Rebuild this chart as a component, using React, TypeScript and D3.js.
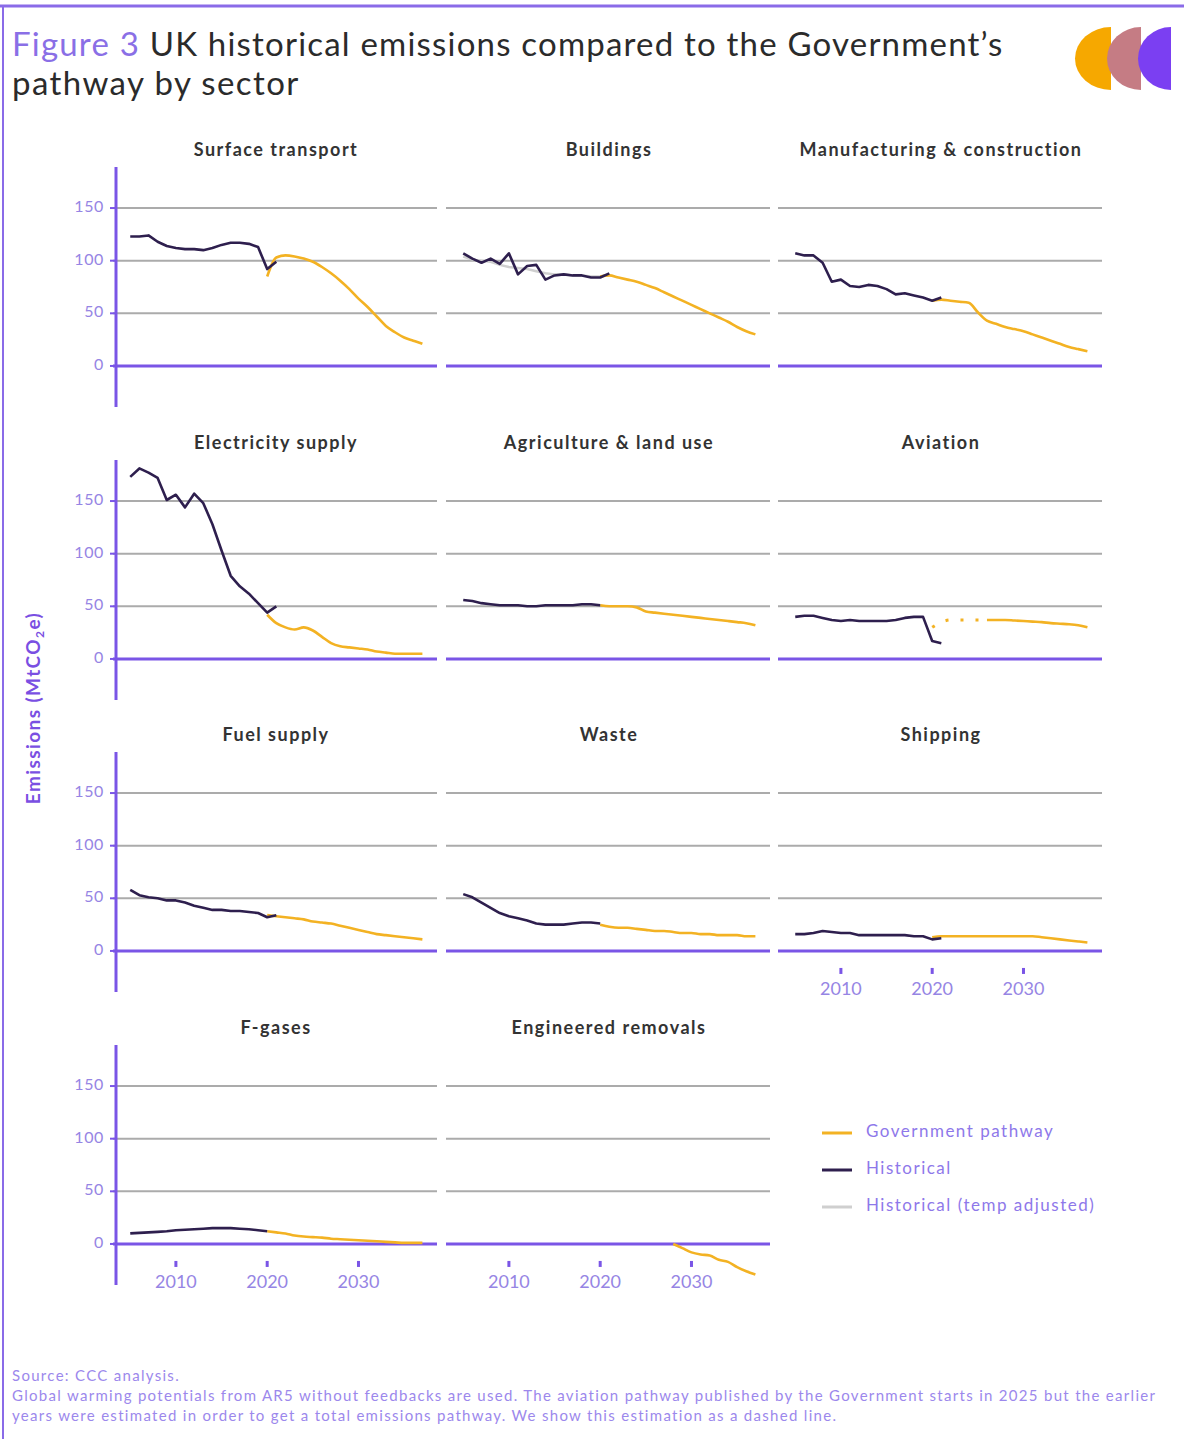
import React from 'react';
import * as d3 from 'd3';

// ---- Data (MtCO2e) ----
const HIST_YEARS = [2005, 2006, 2007, 2008, 2009, 2010, 2011, 2012, 2013, 2014, 2015, 2016, 2017, 2018, 2019, 2020, 2021];
const PATH_YEARS = [2020, 2021, 2022, 2023, 2024, 2025, 2026, 2027, 2028, 2029, 2030, 2031, 2032, 2033, 2034, 2035, 2036, 2037];

const surfaceHist = [123, 123, 124, 118, 114, 112, 111, 111, 110, 112, 115, 117, 117, 116, 113, 92, 99];
const surfacePath = [85, 103, 105, 104, 102, 99, 94, 88, 81, 73, 64, 56, 47, 38, 32, 27, 24, 21];

const buildingsHist = [107, 102, 98, 102, 97, 107, 87, 95, 96, 82, 86, 87, 86, 86, 84, 84, 88];
const buildingsAdj = [104, 101, 100, 99, 96, 94, 93, 92, 90, 88, 87, 87, 86, 86, 85, 85, 87];
const buildingsPath = [85, 86, 84, 82, 80, 77, 74, 70, 66, 62, 58, 54, 50, 46, 42, 37, 33, 30];

const manufacturingHist = [107, 105, 105, 98, 80, 82, 76, 75, 77, 76, 73, 68, 69, 67, 65, 62, 65];
const manufacturingPath = [62, 63, 62, 61, 60, 51, 43, 40, 37, 35, 33, 30, 27, 24, 21, 18, 16, 14];

const electricityHist = [173, 181, 177, 172, 151, 156, 144, 157, 148, 128, 103, 79, 69, 62, 53, 44, 50];
const electricityPath = [42, 34, 30, 28, 30, 27, 21, 15, 12, 11, 10, 9, 7, 6, 5, 5, 5, 5];

const agricultureHist = [56, 55, 53, 52, 51, 51, 51, 50, 50, 51, 51, 51, 51, 52, 52, 51];
const agriculturePath = [51, 50, 50, 50, 49, 45, 44, 43, 42, 41, 40, 39, 38, 37, 36, 35, 34, 32];

const aviationHist = [40, 41, 41, 39, 37, 36, 37, 36, 36, 36, 36, 37, 39, 40, 40, 17, 15];
const AVIATION_EST_YEARS = [2020, 2021, 2022, 2023, 2024, 2025, 2026];
const aviationEst = [30, 35, 37, 37, 37, 37, 37];
const AVIATION_PATH_YEARS = [2026, 2027, 2028, 2029, 2030, 2031, 2032, 2033, 2034, 2035, 2036, 2037];
const aviationPath = [37, 37, 37, 36.5, 36, 35.5, 35, 34, 33.5, 33, 32, 30];

const fuelHist = [58, 53, 51, 50, 48, 48, 46, 43, 41, 39, 39, 38, 38, 37, 36, 32, 34];
const fuelPath = [34, 33, 32, 31, 30, 28, 27, 26, 24, 22, 20, 18, 16, 15, 14, 13, 12, 11];

const wasteHist = [54, 51, 46, 41, 36, 33, 31, 29, 26, 25, 25, 25, 26, 27, 27, 26];
const wastePath = [25, 23, 22, 22, 21, 20, 19, 19, 18, 17, 17, 16, 16, 15, 15, 15, 14, 14];

const shippingHist = [16, 16, 17, 19, 18, 17, 17, 15, 15, 15, 15, 15, 15, 14, 14, 11, 12];
const shippingPath = [13, 14, 14, 14, 14, 14, 14, 14, 14, 14, 14, 14, 13, 12, 11, 10, 9, 8];

const fgasHist = [10, 10.5, 11, 11.5, 12, 13, 13.5, 14, 14.5, 15, 15, 15, 14.5, 14, 13, 12];
const fgasPath = [12, 11, 10, 8, 7, 6.5, 6, 5, 4.5, 4, 3.5, 3, 2.5, 2, 1.5, 1, 1, 1];

const REMOVALS_YEARS = [2028, 2029, 2030, 2031, 2032, 2033, 2034, 2035, 2036, 2037];
const removalsPath = [0, -4, -8, -10, -11, -15, -17, -22, -26, -29];

const Y_TICKS = [0, 50, 100, 150];
const X_TICKS = [2010, 2020, 2030];

type Series = { years: number[]; values: number[] };
type Panel = {
  title: string;
  hist?: Series;
  adj?: Series;
  path?: Series;
  est?: Series;
  xAxis?: boolean;
};

const zipS = (years: number[], values: number[]): Series => ({ years: years.slice(0, values.length), values });

const PANELS: Panel[] = [
  { title: 'Surface transport', hist: zipS(HIST_YEARS, surfaceHist), path: zipS(PATH_YEARS, surfacePath) },
  { title: 'Buildings', hist: zipS(HIST_YEARS, buildingsHist), adj: zipS(HIST_YEARS, buildingsAdj), path: zipS(PATH_YEARS, buildingsPath) },
  { title: 'Manufacturing & construction', hist: zipS(HIST_YEARS, manufacturingHist), path: zipS(PATH_YEARS, manufacturingPath) },
  { title: 'Electricity supply', hist: zipS(HIST_YEARS, electricityHist), path: zipS(PATH_YEARS, electricityPath) },
  { title: 'Agriculture & land use', hist: zipS(HIST_YEARS, agricultureHist), path: zipS(PATH_YEARS, agriculturePath) },
  { title: 'Aviation', hist: zipS(HIST_YEARS, aviationHist), est: zipS(AVIATION_EST_YEARS, aviationEst), path: zipS(AVIATION_PATH_YEARS, aviationPath) },
  { title: 'Fuel supply', hist: zipS(HIST_YEARS, fuelHist), path: zipS(PATH_YEARS, fuelPath) },
  { title: 'Waste', hist: zipS(HIST_YEARS, wasteHist), path: zipS(PATH_YEARS, wastePath) },
  { title: 'Shipping', hist: zipS(HIST_YEARS, shippingHist), path: zipS(PATH_YEARS, shippingPath), xAxis: true },
  { title: 'F-gases', hist: zipS(HIST_YEARS, fgasHist), path: zipS(PATH_YEARS, fgasPath), xAxis: true },
  { title: 'Engineered removals', path: zipS(REMOVALS_YEARS, removalsPath), xAxis: true },
];

// ---- Styling ----
const W = 1184;
const H = 1439;
const COL_X = [115, 448, 780];
const ROW_Y = [167, 460, 752, 1045];
const PW = 322;
const PH = 240;

const PURPLE = '#7a55e6';
const LIGHT_PURPLE = '#9685e4';
const GRID = '#ababab';
const HIST_C = '#2e1f4e';
const PATH_C = '#f3b223';
const ADJ_C = '#cfcfcf';
const FONT = 'Lato, "Noto Sans", sans-serif';

const x = d3.scaleLinear().domain([2003.33, 2038.6]).range([0, PW]);
const y = d3.scaleLinear().domain([-39, 189]).range([PH, 0]);

const lineLinear = d3
  .line<[number, number]>()
  .x((d) => x(d[0]))
  .y((d) => y(d[1]));
const lineSmooth = d3
  .line<[number, number]>()
  .x((d) => x(d[0]))
  .y((d) => y(d[1]))
  .curve(d3.curveMonotoneX);

const pts = (s: Series) => s.years.map((yr, i) => [yr, s.values[i]] as [number, number]);

function PanelView({ p, idx }: { p: Panel; idx: number }) {
  const col = idx % 3;
  const row = Math.floor(idx / 3);
  const x0 = COL_X[col];
  const y0 = ROW_Y[row];
  const zeroY = y(0);
  return (
    <g transform={`translate(${x0},${y0})`}>
      <text
        x={PW / 2}
        y={-16}
        textAnchor="middle"
        dominantBaseline="middle"
        fontFamily={FONT}
        fontWeight={700}
        fontSize={18}
        fill="#333"
        letterSpacing={1.5}
      >
        {p.title}
      </text>
      {Y_TICKS.filter((t) => t !== 0).map((t) => (
        <line key={t} x1={-2} x2={PW} y1={y(t)} y2={y(t)} stroke={GRID} strokeWidth={2} />
      ))}
      <line x1={-2} x2={PW} y1={zeroY} y2={zeroY} stroke={PURPLE} strokeWidth={3} />
      {col === 0 && (
        <g>
          <line x1={1} x2={1} y1={0} y2={PH} stroke={PURPLE} strokeWidth={3} />
          {Y_TICKS.map((t) => (
            <g key={t}>
              <line x1={-5} x2={1} y1={y(t)} y2={y(t)} stroke={PURPLE} strokeWidth={2} />
              <text
                x={-11}
                y={y(t)}
                textAnchor="end"
                dominantBaseline="middle"
                fontFamily={FONT}
                fontSize={16}
                letterSpacing={0.6}
                fill={LIGHT_PURPLE}
              >
                {t}
              </text>
            </g>
          ))}
        </g>
      )}
      {p.xAxis &&
        X_TICKS.map((t) => (
          <g key={t}>
            <rect x={x(t) - 1.5} y={zeroY + 17} width={3} height={6} fill={PURPLE} />
            <text
              x={x(t)}
              y={zeroY + 39}
              textAnchor="middle"
              dominantBaseline="middle"
              fontFamily={FONT}
              fontSize={18}
              fill={LIGHT_PURPLE}
            >
              {t}
            </text>
          </g>
        ))}
      {p.adj && <path d={lineLinear(pts(p.adj)) || ''} fill="none" stroke={ADJ_C} strokeWidth={2.5} />}
      {p.path && (
        <path d={lineSmooth(pts(p.path)) || ''} fill="none" stroke={PATH_C} strokeWidth={2.6} strokeLinejoin="round" />
      )}
      {p.est && (
        <path
          d={lineSmooth(pts(p.est)) || ''}
          fill="none"
          stroke={PATH_C}
          strokeWidth={3}
          strokeDasharray="3 12"
        />
      )}
      {p.hist && (
        <path d={lineLinear(pts(p.hist)) || ''} fill="none" stroke={HIST_C} strokeWidth={2.6} strokeLinejoin="round" />
      )}
    </g>
  );
}

function Logo() {
  // three overlapping half-discs, flat side to the right
  const half = (cx: number, rx: number, cy: number, ry: number) =>
    `M${cx},${cy - ry} A${rx},${ry} 0 0 0 ${cx},${cy + ry} Z`;
  return (
    <g>
      <path d={half(1111, 36, 58.5, 31.5)} fill="#f6a800" />
      <path d={half(1141, 34, 58.5, 31.5)} fill="#c57c84" />
      <path d={half(1171, 33, 58.5, 31.5)} fill="#7b3ff2" />
    </g>
  );
}

const LEGEND = [
  { label: 'Government pathway', color: PATH_C },
  { label: 'Historical', color: HIST_C },
  { label: 'Historical (temp adjusted)', color: ADJ_C },
];

const FOOTNOTES = [
  'Source: CCC analysis.',
  'Global warming potentials from AR5 without feedbacks are used. The aviation pathway published by the Government starts in 2025 but the earlier',
  'years were estimated in order to get a total emissions pathway. We show this estimation as a dashed line.',
];

export default function App() {
  return (
    <svg
      width={W}
      height={H}
      viewBox={`0 0 ${W} ${H}`}
      style={{ position: 'absolute', left: 0, top: 0, background: '#fff' }}
    >
      <rect x={0} y={0} width={W} height={H} fill="#fff" />
      <line x1={0} x2={W} y1={6} y2={6} stroke="#8a6be8" strokeWidth={3} />
      <line x1={3} x2={3} y1={6} y2={H} stroke="#8a6be8" strokeWidth={2} />

      <text x={12} y={56} fontFamily={FONT} fontSize={33} letterSpacing={1.2} fill="#2b2b2b">
        <tspan fill="#8a6fe6">Figure 3</tspan> UK historical emissions compared to the Government’s
      </text>
      <text x={12} y={95} fontFamily={FONT} fontSize={33} letterSpacing={1.4} fill="#2b2b2b">
        pathway by sector
      </text>
      <Logo />

      <text
        transform="translate(40,708) rotate(-90)"
        textAnchor="middle"
        fontFamily={FONT}
        fontWeight={700}
        fontSize={19}
        letterSpacing={1.4}
        fill="#7a4fe2"
      >
        Emissions (MtCO<tspan fontSize={12} dy={4}>2</tspan>
        <tspan dy={-4}>e)</tspan>
      </text>

      {PANELS.map((p, i) => (
        <PanelView key={p.title} p={p} idx={i} />
      ))}

      {LEGEND.map((l, i) => (
        <g key={l.label} transform={`translate(822,${1133 + i * 37})`}>
          <line x1={0} x2={30} y1={0} y2={0} stroke={l.color} strokeWidth={3} />
          <text
            x={44}
            y={0}
            dominantBaseline="middle"
            fontFamily={FONT}
            fontSize={17}
            letterSpacing={1.5}
            fill="#8e78ea"
          >
            {l.label}
          </text>
        </g>
      ))}

      {FOOTNOTES.map((t, i) => (
        <text key={i} x={12} y={1381 + i * 20} fontFamily={FONT} fontSize={15} letterSpacing={1.3} fill="#9c88ec">
          {t}
        </text>
      ))}
    </svg>
  );
}
